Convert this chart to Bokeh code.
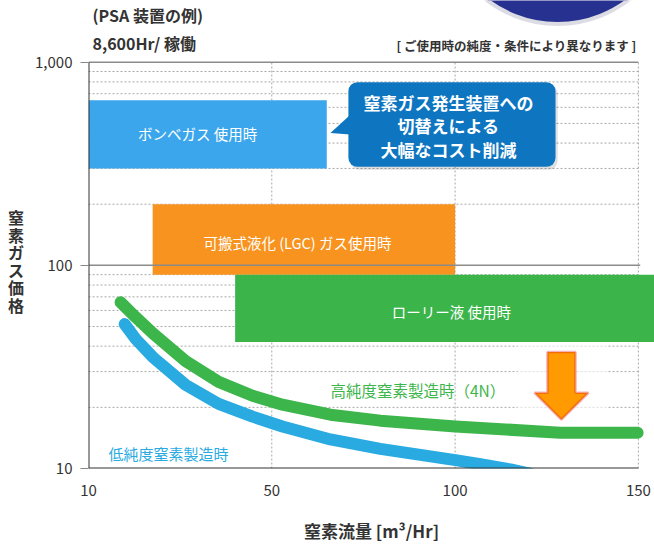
import numpy as np
from bokeh.plotting import figure
from bokeh.models import Range1d, FixedTicker, Label, BoxAnnotation, PolyAnnotation
from bokeh.embed import file_html
from bokeh.resources import INLINE

FONT = "Noto Sans CJK JP"

# ---- data ----
x_tick_values = [10, 50, 100, 150]
x_tick_labels = ["10", "50", "100", "150"]
y_tick_values = [10, 100, 1000]
y_tick_labels = ["10", "100", "1,000"]
y_minor_values = [20, 30, 40, 50, 60, 70, 80, 90, 200, 300, 400, 500, 600, 700, 800, 900]

bar_labels = ["ボンベガス 使用時", "可搬式液化 (LGC) ガス使用時", "ローリー液 使用時"]
bar_flow_start = [10, 24, 42]
bar_flow_end = [65, 100, 160]
bar_price_low = [300, 90, 42]
bar_price_high = [650, 200, 90]
bar_colors = ["#3ca6ec", "#f7931e", "#3bb44a"]

high_label = "高純度窒素製造時（4N）"
high_flow = [17.0, 20.3, 24.0, 31.2, 38.4, 45.8, 52.9, 66.0, 79.6, 100.1, 128.7, 149.8]
high_price = [65.9, 55.6, 46.4, 33.8, 26.7, 22.8, 20.6, 18.4, 17.2, 16.1, 15.0, 15.0]

low_label = "低純度窒素製造時"
low_flow = [17.9, 20.3, 24.0, 31.2, 38.4, 45.8, 52.9, 66.0, 79.6, 100.1, 106.9, 115.1, 120.6]
low_price = [51.4, 43.4, 35.4, 25.8, 20.8, 18.0, 16.1, 13.9, 12.5, 11.0, 10.5, 9.9, 9.4]

title_lines = ["(PSA 装置の例)", "8,600Hr/ 稼働"]
note_text = "[ ご使用時の純度・条件により異なります ]"
callout_lines = ["窒素ガス発生装置への", "切替えによる", "大幅なコスト削減"]
x_label = "窒素流量 [m³/Hr]"
y_label = "窒素ガス価格"


def to_pos(flow):
    f = np.asarray(flow, dtype=float)
    ticks = np.asarray(x_tick_values, dtype=float)
    idx = np.arange(len(ticks), dtype=float)
    pos = np.interp(f, ticks, idx)
    over = f > ticks[-1]
    pos[over] = idx[-1] + (f[over] - ticks[-1]) / (ticks[-1] - ticks[-2])
    return pos


Y_TOP = 10 ** (3 + 62 / 204)

p = figure(width=654, height=545, output_backend="svg", toolbar_location=None,
           x_range=Range1d(0, 3.088), y_range=Range1d(10, Y_TOP), y_axis_type="log",
           min_border_left=88, min_border_right=0, min_border_top=0, min_border_bottom=75,
           title=None)
p.outline_line_color = None
p.grid.visible = False
p.background_fill_color = "white"
p.border_fill_color = "white"

# axes
p.xaxis.ticker = FixedTicker(ticks=list(range(len(x_tick_values))), minor_ticks=[])
p.xaxis.major_label_overrides = {i: t for i, t in enumerate(x_tick_labels)}
p.xaxis.axis_line_color = None
p.xaxis.major_tick_line_color = None
p.xaxis.minor_tick_line_color = None
p.xaxis.major_label_standoff = 10
p.xaxis.major_label_text_font = FONT
p.xaxis.major_label_text_font_size = "15px"
p.xaxis.major_label_text_color = "#333333"
p.xaxis.axis_label = x_label
p.xaxis.axis_label_text_font = FONT
p.xaxis.axis_label_text_font_size = "17px"
p.xaxis.axis_label_text_font_style = "bold"
p.xaxis.axis_label_text_color = "#333333"
p.xaxis.axis_label_standoff = 19

p.yaxis.ticker = FixedTicker(ticks=y_tick_values, minor_ticks=[])
p.yaxis.major_label_overrides = {v: t for v, t in zip(y_tick_values, y_tick_labels)}
p.yaxis.axis_line_color = None
p.yaxis.major_tick_line_color = "#888888"
p.yaxis.major_tick_out = 8
p.yaxis.major_tick_in = 0
p.yaxis.minor_tick_line_color = None
p.yaxis.major_label_standoff = 8
p.yaxis.major_label_text_font = FONT
p.yaxis.major_label_text_font_size = "15px"
p.yaxis.major_label_text_color = "#333333"
p.yaxis.axis_label = "\n".join(["", "", ""] + list(y_label))
p.yaxis.axis_label_orientation = "horizontal"
p.yaxis.axis_label_text_font = FONT
p.yaxis.axis_label_text_font_size = "16px"
p.yaxis.axis_label_text_font_style = "bold"
p.yaxis.axis_label_text_color = "#333333"
p.yaxis.axis_label_text_line_height = 0.73
p.yaxis.axis_label_standoff = 8

x_end = float(len(x_tick_values) - 1)

# grid (dotted)
p.segment(x0=[0] * len(y_minor_values), y0=y_minor_values, x1=[x_end] * len(y_minor_values),
          y1=y_minor_values, line_color="#a8a8a8", line_width=1, line_dash="2 2")
vx = list(range(1, len(x_tick_values)))
p.segment(x0=vx, y0=[10] * len(vx), x1=vx, y1=[1000] * len(vx),
          line_color="#a8a8a8", line_width=1, line_dash="2 2")

# translucent panel behind arrow
p.quad(left=[2.340], right=[2.831], bottom=[15.7], top=[42.4],
       fill_color="white", fill_alpha=0.6, line_color=None)

# bars
p.quad(left=to_pos(bar_flow_start), right=to_pos(bar_flow_end),
       bottom=bar_price_low, top=bar_price_high, fill_color=bar_colors, line_color=None)

# solid reference lines
p.segment(x0=[0, 0], y0=[1000, 100], x1=[x_end, x_end + 0.01], y1=[1000, 100],
          line_color="#8c8c8c", line_width=1.5)

# curves
p.line(to_pos(low_flow), low_price, line_color="#29abe2", line_width=12,
       line_cap="round", line_join="round")
p.line(to_pos(high_flow), high_price, line_color="#3cb54a", line_width=12,
       line_cap="round", line_join="round")

# axis lines
p.segment(x0=[0], y0=[10], x1=[0], y1=[1000], line_color="#333333", line_width=2)
p.segment(x0=[0], y0=[10], x1=[x_end], y1=[10], line_color="#333333", line_width=2)

# decorative disc at top
p.scatter(x=[2.559], y=[5781], size=233, marker="circle", fill_color="#27318f",
          line_color="#dcdce4", line_width=4)

# bar labels
bar_label_pos = [(0.595, 444), (1.140, 129.6), (1.980, 59.5)]
for txt, (lx, ly) in zip(bar_labels, bar_label_pos):
    p.add_layout(Label(x=lx, y=ly, text=txt, text_align="center", text_baseline="middle",
                       text_font=FONT, text_font_size="14.5px", text_color="white"))

# curve labels
p.add_layout(Label(x=1.320, y=24.4, text=high_label, text_align="left", text_baseline="middle",
                   text_font=FONT, text_font_size="15.5px", text_color="#3cb54a"))
p.add_layout(Label(x=0.109, y=11.8, text=low_label, text_align="left", text_baseline="middle",
                   text_font=FONT, text_font_size="15px", text_color="#29abe2"))

# titles
p.add_layout(Label(x=0.022, y=1700, text=title_lines[0], text_align="left", text_baseline="middle",
                   text_font=FONT, text_font_size="16px", text_font_style="bold",
                   text_color="#333333"))
p.add_layout(Label(x=0.022, y=1239, text=title_lines[1], text_align="left", text_baseline="middle",
                   text_font=FONT, text_font_size="16px", text_font_style="bold",
                   text_color="#333333"))
p.add_layout(Label(x=2.990, y=1211, text=note_text, text_align="right", text_baseline="middle",
                   text_font=FONT, text_font_size="12.5px", text_font_style="bold",
                   text_color="#333333"))

# callout
p.add_layout(BoxAnnotation(left=1.43, right=2.56, bottom=295.5, top=771, fill_color="black",
                           fill_alpha=0.12, line_color=None, border_radius=9))
p.add_layout(BoxAnnotation(left=1.418, right=2.548, bottom=305.6, top=798, fill_color="#0e76c0",
                           fill_alpha=1.0, line_color=None, border_radius=9))
p.add_layout(PolyAnnotation(xs=[1.320, 1.445, 1.445], ys=[448.6, 569, 440],
                            fill_color="#0e76c0", fill_alpha=1.0, line_color=None))
for txt, ly in zip(callout_lines, [637, 485.8, 370.3]):
    p.add_layout(Label(x=1.964, y=ly, text=txt, text_align="center", text_baseline="middle",
                       text_font=FONT, text_font_size="17px", text_font_style="bold",
                       text_color="white"))

# arrow
p.add_layout(PolyAnnotation(xs=[2.504, 2.657, 2.657, 2.728, 2.580, 2.433, 2.504],
                            ys=[37.5, 37.5, 23.6, 23.6, 17.4, 23.6, 23.6],
                            fill_color="#ff9a00", fill_alpha=1.0,
                            line_color="#d9001b", line_width=2.5))

open("out.html", "w").write(file_html(p, INLINE))
